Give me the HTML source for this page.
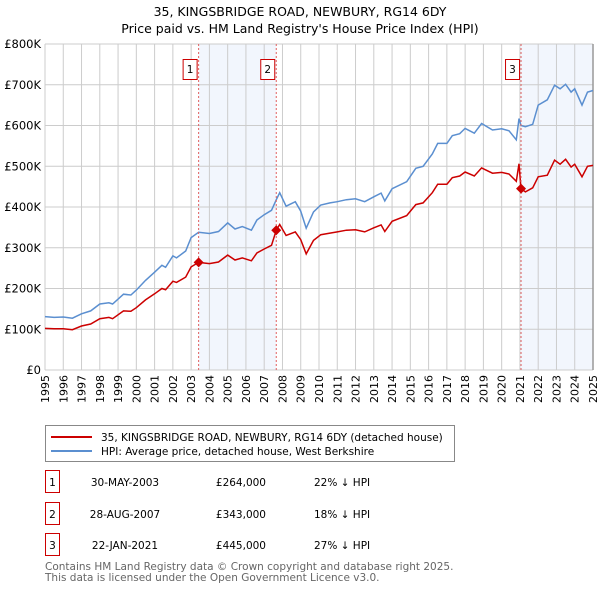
<!DOCTYPE html>
<html><head><meta charset="utf-8"><style>
body{margin:0;background:#fff;font-family:"Liberation Sans","DejaVu Sans",sans-serif}
#wrap{position:relative;width:600px;height:590px;overflow:hidden}
svg text{font-family:"DejaVu Sans","Liberation Sans",sans-serif}
</style></head><body>
<div id="wrap">
<svg id="chart" width="600" height="590">
<text x="300" y="16" text-anchor="middle" font-size="12.5" fill="#000">35, KINGSBRIDGE ROAD, NEWBURY, RG14 6DY</text>
<text x="300" y="33" text-anchor="middle" font-size="12.5" fill="#000">Price paid vs. HM Land Registry's House Price Index (HPI)</text>
<g id="shade"></g><g id="grid"></g><g id="axes"></g><g id="series"></g><g id="marks"></g>
<g>
<rect x="45.5" y="425.5" width="409" height="36" fill="#fff" stroke="#888"/>
<line x1="51" y1="437" x2="92" y2="437" stroke="#cc0000" stroke-width="2"/>
<text x="101" y="441" font-size="10.5">35, KINGSBRIDGE ROAD, NEWBURY, RG14 6DY (detached house)</text>
<line x1="51" y1="451" x2="92" y2="451" stroke="#5b8fd0" stroke-width="2"/>
<text x="101" y="455" font-size="10.5">HPI: Average price, detached house, West Berkshire</text>
</g>
<g id="table" font-size="10.5"></g>
<text x="45" y="570" font-size="10.5" fill="#666">Contains HM Land Registry data © Crown copyright and database right 2025.</text>
<text x="45" y="581" font-size="10.5" fill="#666">This data is licensed under the Open Government Licence v3.0.</text>
</svg></div>
<script>
const hpiYears=[1995.0,1995.5,1996.0,1996.5,1997.0,1997.5,1998.0,1998.5,1998.7,1999.3,1999.7,2000.0,2000.5,2001.0,2001.4,2001.6,2002.0,2002.2,2002.7,2003.0,2003.41,2004.0,2004.5,2005.0,2005.4,2005.8,2006.3,2006.6,2007.0,2007.4,2007.66,2007.85,2008.2,2008.7,2009.0,2009.3,2009.7,2010.1,2010.6,2011.0,2011.5,2012.0,2012.5,2013.0,2013.4,2013.6,2014.0,2014.8,2015.3,2015.7,2016.2,2016.5,2017.0,2017.3,2017.7,2018.0,2018.5,2018.9,2019.5,2020.0,2020.4,2020.8,2020.95,2021.06,2021.3,2021.7,2022.0,2022.5,2022.9,2023.2,2023.5,2023.8,2024.0,2024.4,2024.7,2025.0];
const hpiValues=[131,129,130,127,138,145,162,165,162,186,184,196,220,240,257,252,280,275,292,325,338,335,340,361,346,352,343,368,381,392,418,435,402,413,390,348,388,405,410,413,418,420,413,425,434,415,445,462,495,500,530,556,556,575,580,593,581,605,589,592,587,565,617,600,597,603,650,663,699,690,701,682,690,650,682,686];
const priceValues=[102,101,101,99,108,113,126,129,126,145,144,153,172,187,200,197,218,215,228,253,264,261,265,282,270,275,268,287,297,306,343,357,330,339,320,285,318,332,336,339,343,344,339,349,356,340,365,379,406,410,435,456,456,472,476,486,476,496,483,485,481,463,506,445,437,447,474,478,515,505,517,498,505,474,500,502];
const saleYears=[2003.41,2007.66,2021.06];
const salePrices=[264,343,445];
const saleLabels=["1","2","3"];
const saleDates=["30-MAY-2003","28-AUG-2007","22-JAN-2021"];
const salePriceText=["£264,000","£343,000","£445,000"];
const saleDiff=["22% ↓ HPI","18% ↓ HPI","27% ↓ HPI"];
const yTicks=[0,100,200,300,400,500,600,700,800];
const yTickLabels=["£0","£100K","£200K","£300K","£400K","£500K","£600K","£700K","£800K"];
const xTicks=[1995,1996,1997,1998,1999,2000,2001,2002,2003,2004,2005,2006,2007,2008,2009,2010,2011,2012,2013,2014,2015,2016,2017,2018,2019,2020,2021,2022,2023,2024,2025];

const NS="http://www.w3.org/2000/svg";
const L=45,R=593,T=44,B=370;
const xs=y=>L+(y-1995)/30*(R-L);
const ys=v=>B-v/800*(B-T);
function mk(tag,attrs,parent){const e=document.createElementNS(NS,tag);for(const k in attrs)e.setAttribute(k,attrs[k]);document.getElementById(parent).appendChild(e);return e;}
// shading
[[saleYears[0],saleYears[1]],[saleYears[2],2025]].forEach((s,i)=>{
 const r=mk('rect',{x:xs(s[0]),y:T,width:xs(s[1])-xs(s[0]),height:B-T,fill:'#eef3fc',opacity:0.75},'shade');
 
 
});
xTicks.forEach(t=>{
 const l=mk('line',{x1:xs(t),x2:xs(t),y1:T,y2:B,stroke:'#cccccc','stroke-width':1},'grid');
 
 
 const tx=mk('text',{x:0,y:0,'font-size':11,'text-anchor':'end',transform:`translate(${xs(t)+4},${B+5}) rotate(-90)`},'axes');
 tx.textContent=t;
 
 
});
yTicks.forEach((t,i)=>{
 const l=mk('line',{x1:L,x2:R,y1:ys(t),y2:ys(t),stroke:'#cccccc','stroke-width':1},'grid');
 
 
 const tx=mk('text',{x:L-4,y:ys(t)+4,'font-size':11.5,'text-anchor':'end'},'axes');
 tx.textContent=yTickLabels[i];
 
 
});
const rl=mk('line',{x1:R,x2:R,y1:T,y2:B,stroke:'#999','stroke-width':1.5},'grid');


function path(vals){return hpiYears.map((y,i)=>(i?'L':'M')+xs(y).toFixed(1)+','+ys(vals[i]).toFixed(1)).join('');}
const hp=mk('path',{d:path(hpiValues),fill:'none',stroke:'#5b8fd0','stroke-width':1.5},'series');


const pp=mk('path',{d:path(priceValues),fill:'none',stroke:'#cc0000','stroke-width':1.5},'series');


saleYears.forEach((y,i)=>{
 const v=mk('line',{x1:xs(y),x2:xs(y),y1:T,y2:B,stroke:'#e06060','stroke-width':1,'stroke-dasharray':'2,2'},'marks');
 
 
 const cx=xs(y),cy=ys(salePrices[i]);
 const d=mk('polygon',{points:`${cx},${cy-5} ${cx+5},${cy} ${cx},${cy+5} ${cx-5},${cy}`,fill:'#cc0000'},'marks');
 
 
 const b=mk('rect',{x:cx-15.5,y:59.5,width:14,height:20,fill:'#fff',stroke:'#cc0000'},'marks');
 
 
 const t=mk('text',{x:cx-8.5,y:73,'font-size':10.5,'text-anchor':'middle'},'marks');
 t.textContent=saleLabels[i];
 
 
 const ry=[483,515,546][i];
 const tb=mk('rect',{x:45.5,y:ry-12.5,width:14,height:22,fill:'#fff',stroke:'#cc0000'},'table');
 
 
 const cells=[[52.5,'middle',saleLabels[i]],[125,'middle',saleDates[i]],[266,'end',salePriceText[i]],[314,'start',saleDiff[i]]];
 cells.forEach((c,j)=>{
  const tt=mk('text',{x:c[0],y:ry+3,'text-anchor':c[1]},'table');
  tt.textContent=c[2];
  
  
 });
});
</script>
</body></html>
